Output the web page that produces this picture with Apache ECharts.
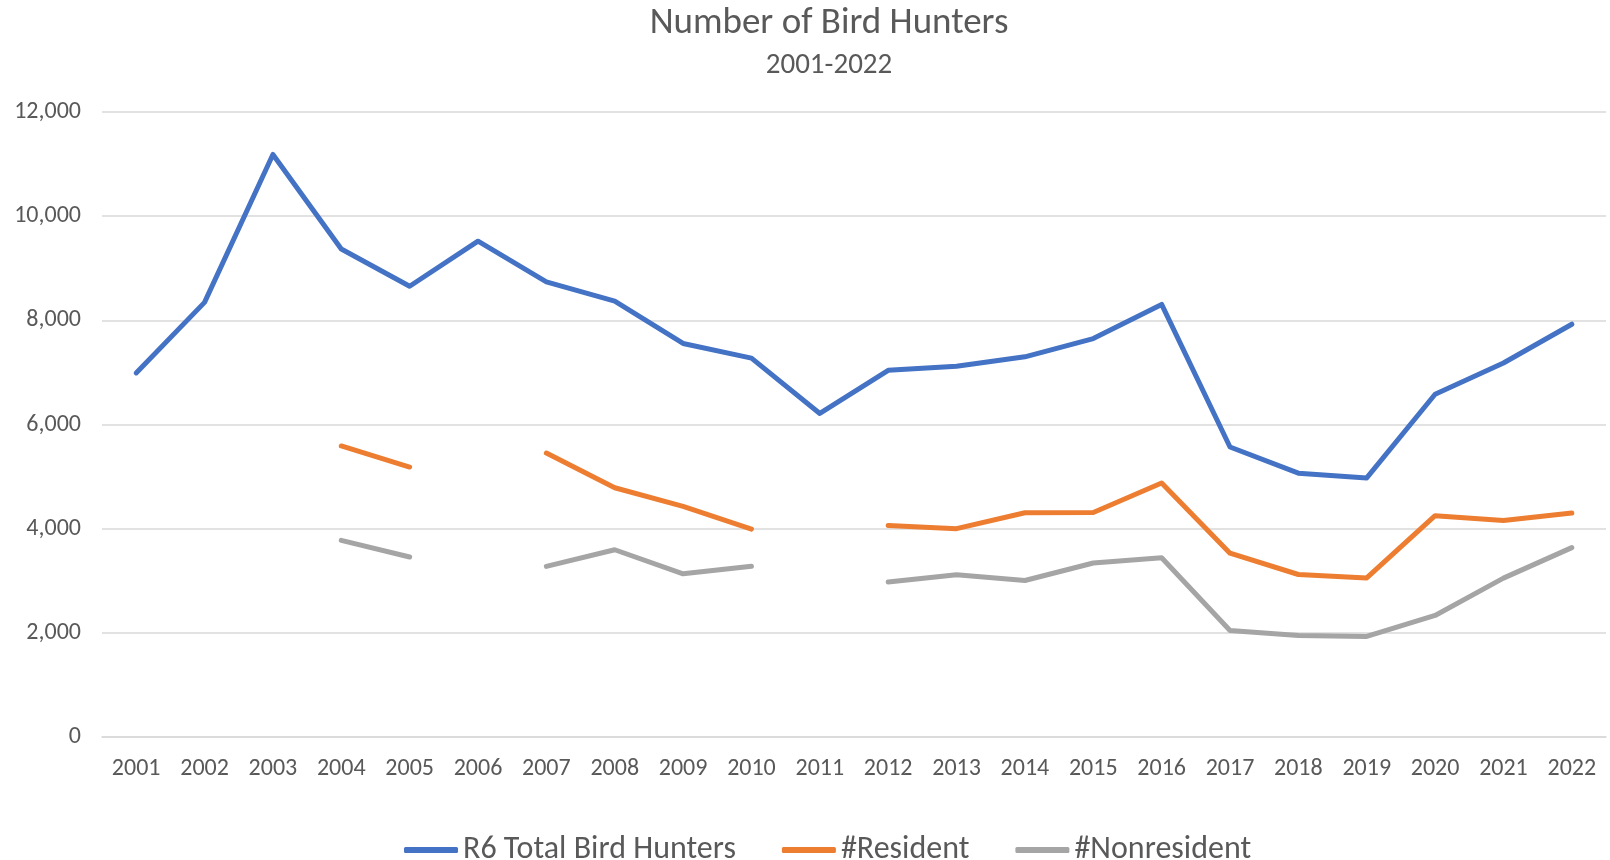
<!DOCTYPE html>
<html>
<head>
<meta charset="utf-8">
<script src="https://cdn.jsdelivr.net/npm/echarts@6/dist/echarts.min.js"></script>
<style>
  html, body { margin: 0; padding: 0; background: #fff; }
  #main { width: 1610px; height: 860px; }
</style>
</head>
<body>
<div id="main"></div>
<script>
var years = ['2001', '2002', '2003', '2004', '2005', '2006', '2007', '2008', '2009', '2010', '2011',
  '2012', '2013', '2014', '2015', '2016', '2017', '2018', '2019', '2020', '2021', '2022']
var totalHunters = [6990, 8345, 11185, 9370, 8655, 9520, 8740, 8370, 7556, 7275, 6212,
  7040, 7118, 7300, 7650, 8305, 5568, 5065, 4975, 6580, 7180, 7925]
var resident = [null, null, null, 5588, 5183, null, 5452, 4785, 4428, 3992, null,
  4062, 4000, 4306, 4310, 4877, 3530, 3120, 3055, 4250, 4158, 4300]
var nonresident = [null, null, null, 3775, 3455, null, 3276, 3595, 3134, 3280, null,
  2975, 3115, 3005, 3340, 3440, 2045, 1948, 1930, 2334, 3050, 3636]
var yTicks = [0, 2000, 4000, 6000, 8000, 10000, 12000]

var textColor = '#595959'
var font = 'Carlito, Calibri, Lato, sans-serif'

var myChart = echarts.init(document.getElementById('main'))

function lineSeries (name, data, color) {
  return {
    name: name,
    type: 'line',
    data: data,
    showSymbol: false,
    symbol: 'none',
    connectNulls: false,
    lineStyle: { width: 5, color: color, cap: 'round', join: 'round' },
    itemStyle: { color: color },
    emphasis: { disabled: true }
  }
}

var option = {
  animation: false,
  textStyle: { fontFamily: font },
  title: [
    {
      text: 'Number of Bird Hunters',
      left: 824,
      top: 0,
      textAlign: 'center',
      textStyle: { fontFamily: font, fontSize: 37, fontWeight: 'normal', color: textColor }
    },
    {
      text: '2001-2022',
      left: 824,
      top: 46,
      textAlign: 'center',
      textStyle: { fontFamily: font, fontSize: 29, fontWeight: 'normal', color: textColor }
    }
  ],
  legend: {
    bottom: -11,
    left: 399,
    itemWidth: 54,
    itemHeight: 6,
    itemGap: 46,
    icon: 'roundRect',
    textStyle: { fontFamily: font, fontSize: 32, color: textColor },
    data: ['R6 Total Bird Hunters', '#Resident', '#Nonresident']
  },
  grid: {
    left: 102,
    right: 4,
    top: 112,
    bottom: 123,
    containLabel: false
  },
  xAxis: {
    type: 'category',
    data: years,
    boundaryGap: true,
    axisLine: { show: true, lineStyle: { color: '#d9d9d9', width: 1.5 } },
    axisTick: { show: false },
    axisLabel: { color: textColor, fontSize: 24, fontFamily: font, margin: 20, interval: 0 },
    splitLine: { show: false }
  },
  yAxis: {
    type: 'value',
    min: yTicks[0],
    max: yTicks[yTicks.length - 1],
    interval: 2000,
    axisLine: { show: false },
    axisTick: { show: false },
    axisLabel: {
      color: textColor,
      fontSize: 24,
      fontFamily: font,
      margin: 21,
      formatter: function (v) { return v.toLocaleString('en-US') }
    },
    splitLine: { lineStyle: { color: '#d9d9d9', width: 1.5 } }
  },
  series: [
    lineSeries('R6 Total Bird Hunters', totalHunters, '#4472C4'),
    lineSeries('#Resident', resident, '#ED7D31'),
    lineSeries('#Nonresident', nonresident, '#A5A5A5')
  ]
}
myChart.setOption(option)
</script>
</body>
</html>
